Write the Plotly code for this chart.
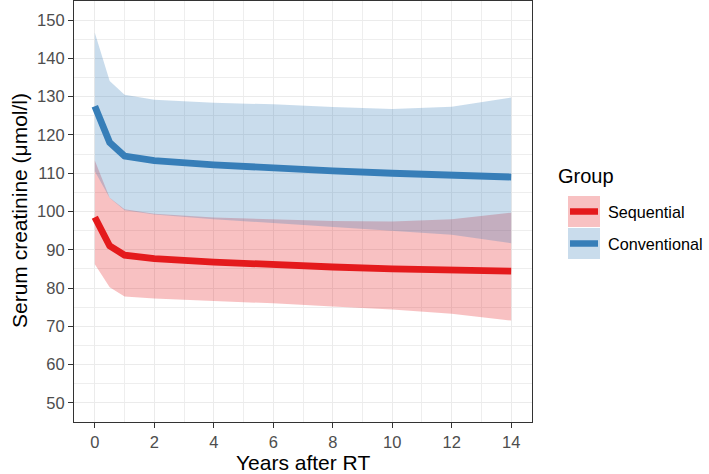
import plotly.graph_objects as go

years = [0, 0.5, 1, 2, 4, 6, 8, 10, 12, 14]

seq_mean = [98.5, 91.0, 88.6, 87.7, 86.8, 86.0, 85.5, 85.0, 84.7, 84.4]
seq_upper = [113.3, 103.6, 100.6, 99.4, 98.4, 97.9, 97.5, 97.4, 98.0, 99.7]
seq_lower = [86.2, 80.2, 77.8, 77.3, 76.6, 76.0, 75.2, 74.4, 73.3, 71.5]

conv_mean = [127.5, 118.0, 114.5, 113.3, 112.2, 111.3, 110.6, 110.0, 109.5, 109.0]
conv_upper = [146.7, 134.1, 130.5, 129.2, 128.4, 128.0, 127.3, 126.8, 127.4, 129.8]
conv_lower = [110.5, 103.5, 100.3, 99.2, 98.0, 97.0, 96.0, 95.0, 93.9, 91.7]

groups = ["Sequential", "Conventional"]
line_colors = ["#E41A1C", "#377EB8"]
fill_colors = ["rgba(228,26,28,0.27)", "rgba(55,126,184,0.27)"]

x_tick_vals = [0, 2, 4, 6, 8, 10, 12, 14]
y_tick_vals = [50, 60, 70, 80, 90, 100, 110, 120, 130, 140, 150]

FONT = "Liberation Sans, Arial, sans-serif"

fig = go.Figure()
series = [(seq_lower, seq_upper, seq_mean), (conv_lower, conv_upper, conv_mean)]

for (lo, up, _), fc, name in zip(series, fill_colors, groups):
    fig.add_trace(go.Scatter(x=years, y=lo, mode="lines", line=dict(width=0),
                             showlegend=False, hoverinfo="skip"))
    fig.add_trace(go.Scatter(x=years, y=up, mode="lines", line=dict(width=0),
                             fill="tonexty", fillcolor=fc, showlegend=False,
                             name=name))

for (_, _, m), lc, name in zip(series, line_colors, groups):
    fig.add_trace(go.Scatter(x=years, y=m, mode="lines",
                             line=dict(color=lc, width=6.8), name=name,
                             showlegend=False))

# plot-area geometry in pixels
W, H = 709, 474
L, R, T, B = 74, 532, 1, 422


def px_x(p):
    return (p - L) / (R - L)


def px_y(p):
    return (B - p) / (B - T)


shapes = []
annotations = []
# axis titles
annotations.append(dict(x=px_x(303), y=px_y(462), xref="paper", yref="paper",
                        text="Years after RT", showarrow=False, xanchor="center",
                        yanchor="middle", font=dict(size=21, color="black", family=FONT)))
annotations.append(dict(x=px_x(19), y=px_y(211), xref="paper", yref="paper",
                        text="Serum creatinine (μmol/l)", showarrow=False, textangle=-90,
                        xanchor="center", yanchor="middle",
                        font=dict(size=21, color="black", family=FONT)))
# manual ggplot-style legend
annotations.append(dict(x=px_x(556), y=px_y(176), xref="paper", yref="paper",
                        text="Group", showarrow=False, xanchor="left",
                        yanchor="middle", font=dict(size=20, color="black", family=FONT)))
key_tops = [196, 228]
for i, name in enumerate(groups):
    top = key_tops[i]
    shapes.append(dict(type="rect", xref="paper", yref="paper",
                       x0=px_x(568), x1=px_x(600), y0=px_y(top), y1=px_y(top + 31),
                       fillcolor=fill_colors[i], line=dict(width=0)))
    cy = top + 15.5
    shapes.append(dict(type="line", xref="paper", yref="paper",
                       x0=px_x(570), x1=px_x(598), y0=px_y(cy), y1=px_y(cy),
                       line=dict(color=line_colors[i], width=6.5)))
    annotations.append(dict(x=px_x(606), y=px_y(cy), xref="paper", yref="paper",
                            text=name, showarrow=False, xanchor="left",
                            yanchor="middle",
                            font=dict(size=16.2, color="black", family=FONT)))

axis_common = dict(
    showline=True, linecolor="#333333", linewidth=1.2, mirror=True,
    ticks="outside", ticklen=5, tickcolor="#333333", tickwidth=1.1,
    showgrid=True, gridcolor="#EBEBEB", gridwidth=1.2, zeroline=False,
    automargin=False,
    tickfont=dict(size=16.5, color="#4D4D4D", family=FONT),
)

fig.update_layout(
    width=W, height=H,
    margin=dict(l=L, r=W - R, t=T, b=H - B, autoexpand=False),
    paper_bgcolor="white", plot_bgcolor="white",
    font=dict(family=FONT),
    showlegend=False,
    shapes=shapes, annotations=annotations,
    xaxis=dict(range=[-0.7, 14.7], tickvals=x_tick_vals,
               minor=dict(dtick=1, tick0=0, showgrid=True, gridcolor="#EEEEEE",
                          gridwidth=0.8, ticks=""),
               **axis_common),
    yaxis=dict(range=[45, 155], tickvals=y_tick_vals,
               minor=dict(dtick=5, tick0=45, showgrid=True, gridcolor="#EEEEEE",
                          gridwidth=0.8, ticks=""),
               **axis_common),
)

fig.write_html("out.html",
               config={"displayModeBar": False},
               post_script="document.body.style.margin='0';document.body.style.padding='0';")
